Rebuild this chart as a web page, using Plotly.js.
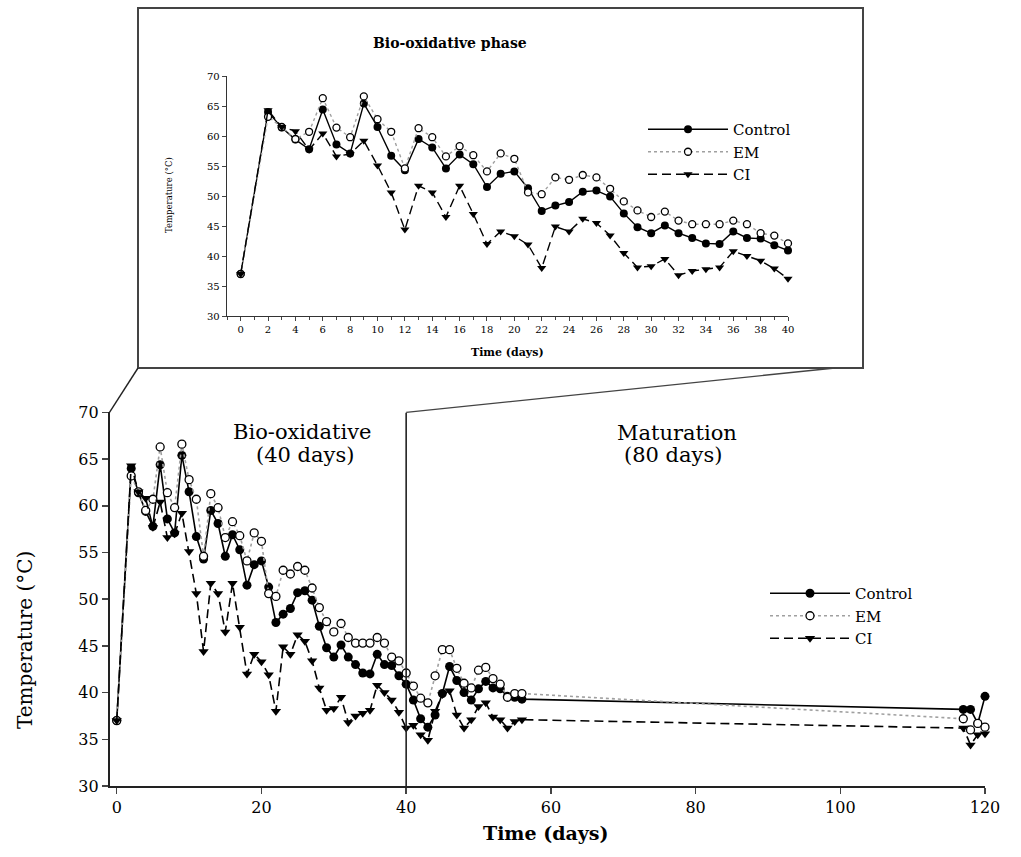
<!DOCTYPE html>
<html>
<head>
<meta charset="utf-8">
<script src="https://cdn.plot.ly/plotly-3.0.1.min.js"></script>
<style>
  html, body { margin: 0; padding: 0; background: #fff; }
  #chart { width: 1021px; height: 857px; }
</style>
</head>
<body>
<div id="chart"></div>
<script>
// composting temperature, days 0-56 then the last days of maturation
const days = [0, 2, 3, 4, 5, 6, 7, 8, 9, 10, 11, 12, 13, 14, 15, 16, 17, 18, 19, 20,
  21, 22, 23, 24, 25, 26, 27, 28, 29, 30, 31, 32, 33, 34, 35, 36, 37, 38, 39, 40,
  41, 42, 43, 44, 45, 46, 47, 48, 49, 50, 51, 52, 53, 54, 55, 56, 117, 118, 119, 120];

const control = [37.0, 64.0, 61.4, 59.4, 57.8, 64.4, 58.6, 57.1, 65.4, 61.5, 56.7, 54.3, 59.5, 58.1, 54.6, 56.9, 55.3, 51.5, 53.7, 54.1,
  51.3, 47.5, 48.4, 49.0, 50.7, 50.9, 49.9, 47.1, 44.8, 43.8, 45.1, 43.8, 43.0, 42.1, 42.0, 44.1, 43.0, 42.9, 41.8, 40.9,
  39.2, 37.2, 36.3, 37.6, 39.9, 42.8, 41.3, 40.0, 39.2, 40.4, 41.2, 40.5, 40.4, 39.6, 39.5, 39.3, 38.2, 38.2, 36.7, 39.6];

const em = [37.0, 63.2, 61.5, 59.5, 60.7, 66.3, 61.4, 59.8, 66.6, 62.8, 60.7, 54.6, 61.3, 59.8, 56.6, 58.3, 56.8, 54.1, 57.1, 56.2,
  50.6, 50.3, 53.1, 52.7, 53.5, 53.1, 51.2, 49.1, 47.6, 46.5, 47.4, 45.9, 45.3, 45.3, 45.3, 45.9, 45.3, 43.8, 43.4, 42.1,
  40.7, 39.4, 38.9, 41.8, 44.6, 44.6, 42.6, 41.0, 40.5, 42.4, 42.7, 41.5, 40.9, 39.5, 39.9, 39.9, 37.2, 36.0, 36.7, 36.3];

const ci = [37.0, 64.3, 61.5, 60.8, 57.7, 60.4, 56.6, 57.0, 59.2, 55.1, 50.6, 44.4, 51.7, 50.6, 46.5, 51.7, 47.0, 42.0, 44.1, 43.3,
  41.9, 38.0, 44.9, 44.1, 46.2, 45.5, 43.4, 40.5, 38.1, 38.3, 39.5, 36.8, 37.5, 37.8, 38.1, 40.8, 40.0, 39.2, 37.9, 36.2,
  36.5, 35.5, 34.9, 38.0, 39.8, 40.2, 37.6, 36.2, 37.1, 38.5, 38.9, 37.4, 37.1, 36.2, 36.9, 37.1, 36.2, 34.4, 35.5, 35.6];

const seriesNames = ["Control", "EM", "CI"];
const phaseLabels = ["Bio-oxidative", "(40 days)", "Maturation", "(80 days)"];
const mainXTicks = [0, 20, 40, 60, 80, 100, 120];

const W = 1021, H = 857;
const FONT = "DejaVu Serif";

// pixel positions of the two plot areas
const mainBox = { l: 109.5, r: 985, t: 412.4, b: 786 };
const insetBox = { l: 227, r: 788, t: 76, b: 316 };
const frame = { l: 138, r: 863, t: 8, b: 368 };

const px = x => x / W;
const py = y => 1 - y / H;

// inset only shows the first 40 days
const cut = days.filter(d => d <= 40).length;

const styles = [
  { line: { color: "black", width: 1.6, dash: "solid" },
    marker: { symbol: "circle", size: 9, color: "black" } },
  { line: { color: "#a0a0a0", width: 1.6, dash: "dot" },
    marker: { symbol: "circle", size: 8, color: "white", line: { color: "black", width: 1.3 } } },
  { line: { color: "black", width: 1.6, dash: "9px,5px" },
    marker: { symbol: "triangle-down", size: 9, color: "black" } }
];
const values = [control, em, ci];

const traces = [];
values.forEach((v, i) => {
  traces.push({
    x: days, y: v, type: "scatter", mode: "lines+markers",
    name: seriesNames[i], line: styles[i].line, marker: styles[i].marker,
    xaxis: "x", yaxis: "y", legend: "legend", cliponaxis: false
  });
});
values.forEach((v, i) => {
  traces.push({
    x: days.slice(0, cut), y: v.slice(0, cut), type: "scatter", mode: "lines+markers",
    name: seriesNames[i], line: Object.assign({}, styles[i].line, { width: 1.4 }),
    marker: Object.assign({}, styles[i].marker, { size: styles[i].marker.size - 1 }),
    xaxis: "x2", yaxis: "y2", legend: "legend2", cliponaxis: false
  });
});

const x40 = mainBox.l + (40 + 1) / 121 * (mainBox.r - mainBox.l);

function label(text, x, y, size, extra) {
  return Object.assign({
    text: text, x: px(x), y: py(y), xref: "paper", yref: "paper",
    xanchor: "center", yanchor: "middle", showarrow: false, font: { size: size }
  }, extra || {});
}

const layout = {
  width: W, height: H,
  margin: { l: 0, r: 0, t: 0, b: 0 },
  paper_bgcolor: "white", plot_bgcolor: "rgba(0,0,0,0)",
  font: { family: FONT, color: "black" },
  showlegend: true,
  xaxis: {
    domain: [px(mainBox.l), px(mainBox.r)], range: [-1, 120],
    tickvals: mainXTicks, ticks: "outside", ticklen: 6, tickwidth: 1.5,
    showline: true, linecolor: "#222", linewidth: 1.6, showgrid: false, zeroline: false,
    tickfont: { size: 16 }, anchor: "y"
  },
  yaxis: {
    domain: [py(mainBox.b), py(mainBox.t)], range: [30, 70], dtick: 5,
    ticks: "outside", ticklen: 6, tickwidth: 1.5,
    showline: true, linecolor: "#222", linewidth: 1.6, showgrid: false, zeroline: false,
    tickfont: { size: 16 }, anchor: "x"
  },
  xaxis2: {
    domain: [px(insetBox.l), px(insetBox.r)], range: [-1, 40],
    tick0: 0, dtick: 2, ticks: "outside", ticklen: 4, tickwidth: 1,
    minor: { dtick: 1, ticks: "outside", ticklen: 3, tickwidth: 1 },
    showline: true, linecolor: "#333", linewidth: 1.3, showgrid: false, zeroline: false,
    tickfont: { size: 10 }, anchor: "y2"
  },
  yaxis2: {
    domain: [py(insetBox.b), py(insetBox.t)], range: [30, 70], dtick: 5,
    ticks: "outside", ticklen: 4, tickwidth: 1,
    showline: true, linecolor: "#333", linewidth: 1.3, showgrid: false, zeroline: false,
    tickfont: { size: 10 }, anchor: "x2"
  },
  legend: {
    x: px(765), y: py(577), xanchor: "left", yanchor: "top",
    bgcolor: "rgba(0,0,0,0)", font: { size: 15 }, itemwidth: 80, tracegroupgap: 0
  },
  legend2: {
    x: px(643), y: py(113), xanchor: "left", yanchor: "top",
    bgcolor: "rgba(0,0,0,0)", font: { size: 15 }, itemwidth: 80, tracegroupgap: 0
  },
  shapes: [
    { type: "rect", xref: "paper", yref: "paper",
      x0: px(frame.l), x1: px(frame.r), y0: py(frame.b), y1: py(frame.t),
      line: { color: "#444", width: 2 } },
    { type: "line", xref: "x", yref: "y", x0: 40, x1: 40, y0: 30, y1: 70,
      line: { color: "#222", width: 1.6 } },
    { type: "line", xref: "paper", yref: "paper",
      x0: px(mainBox.l), y0: py(mainBox.t), x1: px(frame.l), y1: py(frame.b),
      line: { color: "#222", width: 1.4 } },
    { type: "line", xref: "paper", yref: "paper",
      x0: px(x40), y0: py(mainBox.t), x1: px(835), y1: py(frame.b),
      line: { color: "#444", width: 1.4 } }
  ],
  annotations: [
    label(phaseLabels[0], 302, 432, 21),
    label(phaseLabels[1], 305, 455, 21),
    label(phaseLabels[2], 677, 433, 21),
    label(phaseLabels[3], 673, 455, 21),
    label("Time (days)", 545, 833, 19, { font: { size: 19, weight: "bold" } }),
    label("Temperature (°C)", 25, 640, 20, { textangle: -90 }),
    label("Bio-oxidative phase", 450, 43, 14, { font: { size: 14, weight: "bold" } }),
    label("Time (days)", 507, 353, 11, { font: { size: 11, weight: "bold" } }),
    label("Temperature (°C)", 169, 195, 8.5, { textangle: -90 })
  ]
};

Plotly.newPlot("chart", traces, layout, { staticPlot: true });
</script>
</body>
</html>
